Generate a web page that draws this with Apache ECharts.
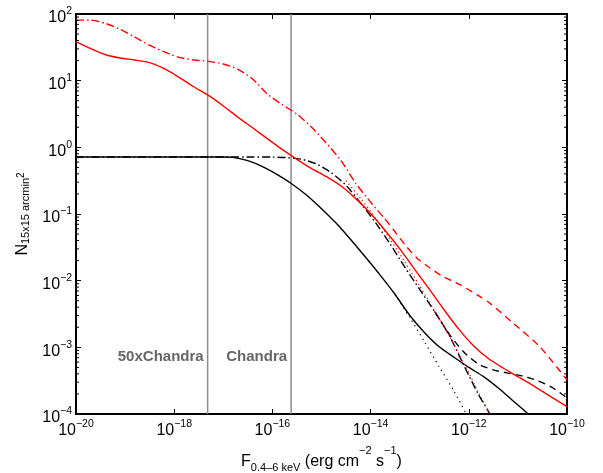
<!DOCTYPE html>
<html><head><meta charset="utf-8">
<script src="https://cdn.jsdelivr.net/npm/echarts@6/dist/echarts.min.js"></script>
<style>html,body{margin:0;padding:0;background:#fff}#c{width:603px;height:473px}</style>
</head><body><div id="c"></div>
<script>
// ---- data (flux in erg cm^-2 s^-1, N per 15x15 arcmin^2) ----
const blackSolidX = [1e-20, 1e-17, 1.58e-17, 3.16e-17, 6.3e-17, 1.26e-16, 2.5e-16, 5.0e-16, 1e-15, 2.0e-15, 4.0e-15, 7.9e-15, 1.58e-14, 3.16e-14, 6.3e-14, 1.26e-13, 2.5e-13, 5.0e-13, 1e-12, 2.0e-12, 4.0e-12, 7.9e-12, 1.58e-11, 2.0e-11];
const blackSolidY = [0.718, 0.718, 0.708, 0.631, 0.513, 0.389, 0.282, 0.191, 0.120, 0.0724, 0.0407, 0.0224, 0.0120, 6.2e-3, 3.0e-3, 1.66e-3, 1.02e-3, 7.1e-4, 5.0e-4, 3.63e-4, 2.45e-4, 1.58e-4, 1.02e-4, 8.7e-5];

const blackDashDotX = [1e-20, 3.16e-17, 1e-16, 2.0e-16, 4.0e-16, 7.9e-16, 1.58e-15, 3.16e-15, 6.3e-15, 1.26e-14, 2.5e-14, 5.0e-14, 1e-13, 2.0e-13, 4.0e-13, 7.9e-13, 1.58e-12, 2.5e-12, 2.8e-12];
const blackDashDotY = [0.718, 0.718, 0.714, 0.70, 0.66, 0.562, 0.417, 0.269, 0.145, 0.0741, 0.0355, 0.0158, 7.4e-3, 3.47e-3, 1.51e-3, 5.4e-4, 1.95e-4, 1.1e-4, 8.9e-5];

const blackDashedX = [2.0e-13, 4.0e-13, 7.9e-13, 1.58e-12, 3.16e-12, 6.3e-12, 1.26e-11, 2.5e-11, 5.0e-11, 1e-10];
const blackDashedY = [3.47e-3, 1.58e-3, 8.5e-4, 5.6e-4, 4.6e-4, 4.1e-4, 3.7e-4, 3.16e-4, 2.5e-4, 1.74e-4];

const blackDottedX = [3.16e-14, 6.3e-14, 1.26e-13, 2.5e-13, 5.0e-13, 8.9e-13, 1e-12];
const blackDottedY = [6.2e-3, 2.8e-3, 1.2e-3, 5.1e-4, 2.2e-4, 1.0e-4, 8.5e-5];

const redSolidX = [1e-20, 2.0e-20, 4.0e-20, 7.9e-20, 1.58e-19, 3.16e-19, 6.3e-19, 1.26e-18, 2.5e-18, 5.0e-18, 1e-17, 2.0e-17, 4.0e-17, 7.9e-17, 1.58e-16, 3.16e-16, 6.3e-16, 1.26e-15, 2.5e-15, 5.0e-15, 1e-14, 2.0e-14, 4.0e-14, 7.9e-14, 1.58e-13, 3.16e-13, 6.3e-13, 1.26e-12, 2.5e-12, 5.0e-12, 1e-11, 2.0e-11, 4.0e-11, 1e-10];
const redSolidY = [38.5, 30.2, 24.5, 21.9, 20.4, 18.6, 15.1, 11.2, 8.1, 6.0, 4.17, 2.82, 1.95, 1.35, 0.933, 0.661, 0.479, 0.363, 0.263, 0.170, 0.102, 0.0562, 0.0295, 0.0148, 7.4e-3, 3.63e-3, 1.86e-3, 1.05e-3, 6.8e-4, 4.9e-4, 3.63e-4, 2.69e-4, 1.95e-4, 1.29e-4];

const redDashDotX = [1e-20, 2.0e-20, 4.0e-20, 7.9e-20, 1.58e-19, 3.16e-19, 6.3e-19, 1.26e-18, 2.5e-18, 5.0e-18, 1e-17, 2.0e-17, 4.0e-17, 7.9e-17, 1.58e-16, 3.16e-16, 6.3e-16, 1.26e-15, 2.5e-15, 5.0e-15, 1e-14, 2.0e-14];
const redDashDotY = [81, 81, 72, 59, 45, 34, 27, 22.4, 20.4, 19.5, 17.8, 14.8, 10.5, 6.3, 4.37, 3.16, 2.0, 1.15, 0.63, 0.288, 0.151, 0.083];

const redDashedX = [2.0e-14, 3.16e-14, 5.4e-14, 8.7e-14, 1.62e-13, 3.0e-13, 6.6e-13, 1.7e-12, 2.7e-12, 8.1e-12, 2.8e-11, 1e-10];
const redDashedY = [0.083, 0.0537, 0.0324, 0.0219, 0.0155, 0.0115, 8.7e-3, 5.75e-3, 4.57e-3, 2.29e-3, 1.02e-3, 3.24e-4];

const redDottedX = [3.16e-15, 6.3e-15, 1.26e-14, 2.5e-14, 5.0e-14, 1e-13, 2.0e-13, 4.0e-13, 7.9e-13, 1.58e-12, 2.5e-12, 3.16e-12];
const redDottedY = [0.316, 0.17, 0.087, 0.0417, 0.019, 8.3e-3, 3.55e-3, 1.48e-3, 5.8e-4, 2.1e-4, 1.1e-4, 7.9e-5];

const limitFlux = [4.8e-18, 2.4e-16];         // 50xChandra, Chandra limits
const limitLabels = ['50xChandra', 'Chandra'];
const labelLevel = 7.1e-4;                     // N level at which the limit names sit

// ---- helpers ----
const FONT = 'Liberation Sans, Arial, Helvetica, sans-serif';
const X_MIN = 1e-20, X_MAX = 1e-10, Y_MIN = 1e-4, Y_MAX = 1e2;
function zip(xs, ys) { return xs.map((x, i) => [x, ys[i]]); }
function powLabel(v) {
  const e = Math.round(Math.log10(v));
  return '{b|10}{s|' + String(e).replace('-', '\u2212') + '}';
}
const tickRich = {
  b: { fontSize: 16, lineHeight: 16, padding: [4, 0, 0, 0], verticalAlign: 'top', color: '#000', fontFamily: FONT },
  s: { fontSize: 10.5, lineHeight: 10, verticalAlign: 'top', color: '#000', fontFamily: FONT }
};

function lineSeries(name, xs, ys, color, type, width, z) {
  return {
    name, type: 'line', data: zip(xs, ys), showSymbol: false, symbol: 'none',
    smooth: 0.25, clip: true, silent: true, z: z || 3,
    lineStyle: { color, width: width || 1.4, type }
  };
}

// minor ticks of the log y axis (2..9 within each decade)
const yMinorTicks = [];
for (let e = Math.log10(Y_MIN); e < Math.log10(Y_MAX); e++) {
  for (let m = 2; m <= 9; m++) yMinorTicks.push([X_MIN, m * Math.pow(10, e)]);
}

const chart = echarts.init(document.getElementById('c'), null, { renderer: 'canvas' });
const axisLineStyle = { show: true, lineStyle: { color: '#000', width: 2 } };
const majorTick = { show: true, inside: true, length: 5, lineStyle: { color: '#000', width: 1 } };

const option = {
  animation: false,
  backgroundColor: '#fff',
  grid: { left: 76, right: 36, top: 14, bottom: 59, containLabel: false, outerBoundsMode: 'none' },
  xAxis: [
    {
      type: 'log', logBase: 10, min: X_MIN, max: X_MAX, interval: 2,
      position: 'bottom',
      name: '{F|F}{sub|0.4\u20136 keV}{t| (erg cm}{sup|\u22122}{t| s}{sup|\u22121}{t|)}',
      nameLocation: 'middle', nameGap: 22,
      nameTextStyle: {
        rich: {
          F: { fontSize: 16, lineHeight: 16, padding: [10, 0, 0, 0], verticalAlign: 'top', fontFamily: FONT, color: '#000' },
          t: { fontSize: 16, lineHeight: 16, padding: [10, 0, 0, 0], verticalAlign: 'top', fontFamily: FONT, color: '#000' },
          sub: { fontSize: 11, lineHeight: 11, padding: [19, 0, 0, 0], verticalAlign: 'top', fontFamily: FONT, color: '#000' },
          sup: { fontSize: 11, lineHeight: 11, padding: [2, 0, 0, 0], verticalAlign: 'top', fontFamily: FONT, color: '#000' }
        }
      },
      axisLine: axisLineStyle, axisTick: majorTick,
      minorTick: { show: false }, splitLine: { show: false },
      axisLabel: { show: true, margin: 5, formatter: powLabel, rich: tickRich }
    },
    {
      type: 'log', logBase: 10, min: X_MIN, max: X_MAX, interval: 2,
      position: 'top',
      axisLine: axisLineStyle, axisTick: majorTick,
      splitLine: { show: false }, axisLabel: { show: false }
    }
  ],
  yAxis: [
    {
      type: 'log', logBase: 10, min: Y_MIN, max: Y_MAX, interval: 1,
      position: 'left',
      name: '{N|N}{sub|15x15 arcmin}{sup|2}',
      nameLocation: 'middle', nameGap: 47, nameRotate: 90,
      nameTextStyle: {
        rich: {
          N: { fontSize: 16, lineHeight: 16, padding: [2, 0, 0, 0], verticalAlign: 'top', fontFamily: FONT, color: '#000' },
          sub: { fontSize: 11, lineHeight: 11, padding: [7, 0, 0, 0], verticalAlign: 'top', fontFamily: FONT, color: '#000' },
          sup: { fontSize: 10, lineHeight: 10, padding: [3, 0, 0, 0], verticalAlign: 'top', fontFamily: FONT, color: '#000' }
        }
      },
      axisLine: axisLineStyle, axisTick: majorTick,
      minorTick: { show: false }, splitLine: { show: false },
      axisLabel: { show: true, margin: 4, formatter: powLabel, rich: tickRich }
    },
    {
      type: 'log', logBase: 10, min: Y_MIN, max: Y_MAX, interval: 1,
      position: 'right',
      axisLine: axisLineStyle, axisTick: majorTick,
      minorTick: { show: false }, splitLine: { show: false },
      axisLabel: { show: false }
    }
  ],
  series: [
    lineSeries('limit50x', [limitFlux[0], limitFlux[0]], [Y_MIN, Y_MAX], '#8c8c8c', 'solid', 1.5, 1),
    lineSeries('limitChandra', [limitFlux[1], limitFlux[1]], [Y_MIN, Y_MAX], '#8c8c8c', 'solid', 1.5, 1),
    {
      name: 'yMinorTicks', type: 'custom', silent: true, z: 5, data: yMinorTicks,
      renderItem: function (params, api) {
        const v = api.value(1);
        const pl = api.coord([X_MIN, v]);
        const pr = api.coord([X_MAX, v]);
        return {
          type: 'group', children: [
            { type: 'line', shape: { x1: pl[0], y1: pl[1], x2: pl[0] + 3, y2: pl[1] }, style: { stroke: '#000', lineWidth: 1 } },
            { type: 'line', shape: { x1: pr[0] - 3, y1: pr[1], x2: pr[0], y2: pr[1] }, style: { stroke: '#000', lineWidth: 1 } }
          ]
        };
      }
    },
    lineSeries('blackSolid', blackSolidX, blackSolidY, '#000', 'solid'),
    lineSeries('blackDotted', blackDottedX, blackDottedY, '#000', [1.2, 4], 1.2),
    lineSeries('blackDashDot', blackDashDotX, blackDashDotY, '#000', [8, 3, 1.5, 3]),
    lineSeries('blackDashed', blackDashedX, blackDashedY, '#000', [7, 5]),
    lineSeries('redDotted', redDottedX, redDottedY, '#ff0000', [1.2, 3], 1.2),
    lineSeries('redSolid', redSolidX, redSolidY, '#ff0000', 'solid'),
    lineSeries('redDashDot', redDashDotX, redDashDotY, '#ff0000', [8, 3, 1.5, 3]),
    lineSeries('redDashed', redDashedX, redDashedY, '#ff0000', [7, 5])
  ]
};
chart.setOption(option);

// names of the limit lines, placed through the axes
const yPix = chart.convertToPixel({ yAxisIndex: 0 }, labelLevel);
const graphics = limitFlux.map((f, i) => ({
  type: 'text', z: 10,
  x: chart.convertToPixel({ xAxisIndex: 0 }, f) - 4, y: yPix,
  style: { text: limitLabels[i], font: 'bold 15px ' + FONT, fill: '#666', align: 'right', verticalAlign: 'middle' }
}));
chart.setOption({ graphic: graphics });
</script>
</body></html>
